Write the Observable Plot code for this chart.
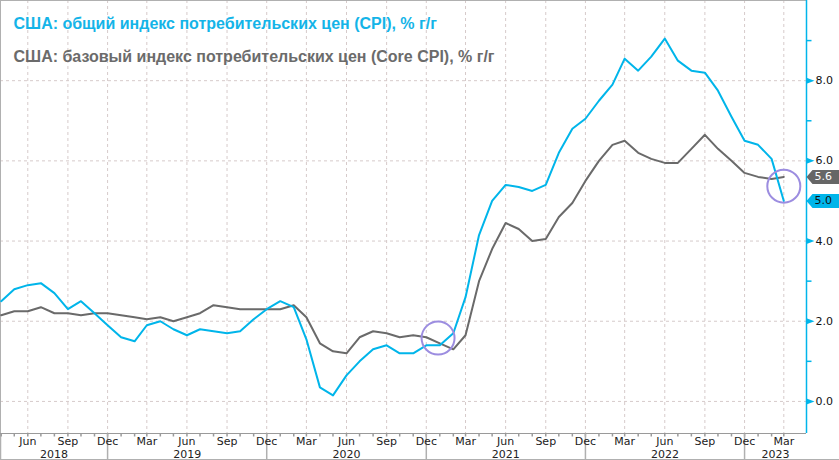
<!DOCTYPE html>
<html>
<head>
<meta charset="utf-8">
<script src="https://cdn.jsdelivr.net/npm/d3@7"></script>
<script src="https://cdn.jsdelivr.net/npm/@observablehq/plot@0.6"></script>
<style>
  html, body { margin: 0; padding: 0; background: #fff; }
  #chart svg { display: block; }
</style>
</head>
<body>
<div id="chart"></div>
<script>
// ---- Data (monthly, Apr 2018 – Mar 2023) ----
const firstMonth = new Date(Date.UTC(2018, 3, 1));
const lastMonth = new Date(Date.UTC(2023, 2, 1));

// Headline CPI, % y/y
const cpi = [
  2.5, 2.8, 2.9, 2.95, 2.7, 2.3, 2.5, 2.2, 1.9,
  1.6, 1.5, 1.9, 2.0, 1.8, 1.65, 1.8, 1.75, 1.7, 1.75, 2.05, 2.3,
  2.5, 2.35, 1.55, 0.35, 0.15, 0.65, 1.0, 1.3, 1.4, 1.2, 1.2, 1.4,
  1.4, 1.7, 2.6, 4.15, 5.0, 5.4, 5.35, 5.25, 5.4, 6.2, 6.8, 7.05,
  7.5, 7.9, 8.55, 8.25, 8.6, 9.05, 8.5, 8.25, 8.2, 7.75, 7.1, 6.5,
  6.4, 6.05, 5.0
];
// Core CPI, % y/y
const core = [
  2.15, 2.25, 2.25, 2.35, 2.2, 2.2, 2.15, 2.2, 2.2,
  2.15, 2.1, 2.05, 2.1, 2.0, 2.1, 2.2, 2.4, 2.35, 2.3, 2.3, 2.3,
  2.3, 2.4, 2.1, 1.45, 1.25, 1.2, 1.6, 1.75, 1.7, 1.6, 1.65, 1.6,
  1.45, 1.3, 1.65, 3.0, 3.8, 4.45, 4.3, 4.0, 4.05, 4.6, 4.95, 5.5,
  6.0, 6.4, 6.5, 6.2, 6.05, 5.95, 5.95, 6.3, 6.65, 6.3, 6.0, 5.7,
  5.6, 5.55, 5.6
];

// Highlight circles (annotation positions)
const circleDates = [new Date(Date.UTC(2020, 11, 28)), new Date(Date.UTC(2023, 2, 1))];
const circleValues = [1.58, 5.37];

// Texts
const title1 = "США: общий индекс потребительских цен (CPI), % г/г";
const title2 = "США: базовый индекс потребительских цен (Core CPI), % г/г";
const yTicks = [0, 2, 4, 6, 8];
const yMinorTicks = [1, 3, 5, 7, 9];
const yTickLabels = ["0.0", "2.0", "4.0", "6.0", "8.0"];
const quarterNames = ["Mar", "Jun", "Sep", "Dec"];
const yearLabels = ["2018", "2019", "2020", "2021", "2022", "2023"];

// ---- Build table ----
const months = d3.utcMonth.range(firstMonth, d3.utcMonth.offset(lastMonth, 1));
const data = months.map((d, i) => ({date: d, cpi: cpi[i], core: core[i]}));
const circles = circleDates.map((d, i) => ({date: d, value: circleValues[i]}));

const xStart = new Date(+firstMonth - 1.6 * 864e5);
const xEnd = new Date(+lastMonth + 52.06 * 864e5);
const yDomain = [-0.8, 10];

const quarterMonths = months.filter(d => [2, 5, 8, 11].includes(d.getUTCMonth()));
const decMonths = months.filter(d => d.getUTCMonth() === 11);
const years = yearLabels.map(y => {
  const yr = +y;
  const a = new Date(Math.max(+xStart, Date.UTC(yr - 1, 11, 1)));
  const b = new Date(Math.min(+xEnd, Date.UTC(yr, 11, 1)));
  return {label: y, date: new Date((+a + +b) / 2)};
});
const lastRow = data[data.length - 1];
const endLabels = [
  {value: lastRow.core, label: lastRow.core.toFixed(1), fill: "#666666", color: "#ffffff"},
  {value: lastRow.cpi, label: lastRow.cpi.toFixed(1), fill: "#00b5ea", color: "#111111"}
];

// ---- Styles ----
const cyan = "#00b5ea";
const gray = "#6a6a6a";
const gridColor = "#d6caca";
const axisGray = "#9a9a9a";
const purple = "#9c8de0";

const sym = fn => ({draw(ctx) { fn(ctx); }});
const vline = len => sym(ctx => { ctx.moveTo(0, 0); ctx.lineTo(0, len); });
const hline = len => sym(ctx => { ctx.moveTo(0, 0); ctx.lineTo(len, 0); });
const triTick = sym(ctx => { ctx.moveTo(0, -3); ctx.lineTo(8, 0); ctx.lineTo(0, 3); ctx.closePath(); });
const arrowBox = sym(ctx => {
  ctx.moveTo(0, 0); ctx.lineTo(6, -7); ctx.lineTo(40, -7);
  ctx.lineTo(40, 7); ctx.lineTo(6, 7); ctx.closePath();
});

const chart = Plot.plot({
  width: 839,
  height: 460,
  marginLeft: 0,
  marginRight: 33,
  marginTop: 0,
  marginBottom: 27,
  x: {type: "utc", domain: [xStart, xEnd], axis: null},
  y: {domain: yDomain, axis: null},
  style: {fontFamily: "'DejaVu Sans', Verdana, sans-serif", fontSize: "11px", background: "#ffffff", overflow: "visible"},
  marks: [
    // grid
    Plot.ruleY(yTicks, {stroke: gridColor, strokeDasharray: "3,3"}),
    Plot.ruleX(quarterMonths, {stroke: gridColor, strokeDasharray: "3,3"}),
    // frame
    Plot.ruleY([yDomain[1]], {stroke: "#b0b0b0"}),
    Plot.ruleX([xStart], {stroke: "#b0b0b0"}),
    Plot.dot([xStart], {x: d => d, frameAnchor: "bottom", symbol: vline(27), stroke: "#b0b0b0", r: 3}),
    Plot.ruleY([yDomain[0]], {stroke: axisGray}),
    Plot.ruleY([yDomain[0]], {dy: 26, x1: xStart, x2: new Date(+xEnd + 200 * 864e5), stroke: "#b0b0b0"}),
    // x axis ticks and labels
    Plot.dot(months, {x: d => d, frameAnchor: "bottom", symbol: vline(3), stroke: axisGray, r: 3}),
    Plot.dot(decMonths, {x: d => d, frameAnchor: "bottom", symbol: vline(27), stroke: "#b0b0b0", r: 3}),
    Plot.text(quarterMonths, {x: d => d, frameAnchor: "bottom", dy: 8, lineAnchor: "middle",
      text: d => quarterNames[[2, 5, 8, 11].indexOf(d.getUTCMonth())], fill: "#222", fontSize: 11}),
    Plot.text(years, {x: "date", frameAnchor: "bottom", dy: 21, lineAnchor: "middle", text: "label", fill: "#222", fontSize: 11}),
    // lines
    Plot.line(data, {x: "date", y: "core", stroke: gray, strokeWidth: 2}),
    Plot.line(data, {x: "date", y: "cpi", stroke: cyan, strokeWidth: 2}),
    // right axis
    Plot.ruleX([xEnd], {stroke: cyan, strokeWidth: 1.5}),
    Plot.dot(yTicks, {y: d => d, frameAnchor: "right", symbol: triTick, fill: cyan, stroke: null, r: 3}),
    Plot.dot(yMinorTicks, {y: d => d, frameAnchor: "right", symbol: hline(5), stroke: cyan, r: 3}),
    Plot.text(yTicks, {y: d => d, frameAnchor: "right", dx: 9, textAnchor: "start", lineAnchor: "middle",
      text: (d, i) => yTickLabels[i], fill: "#111", fontSize: 11}),
    // end value boxes
    Plot.dot(endLabels, {y: "value", frameAnchor: "right", dx: 0, symbol: arrowBox, fill: "fill", stroke: null, r: 3}),
    Plot.text(endLabels, {y: "value", frameAnchor: "right", dx: 8, textAnchor: "start", lineAnchor: "middle",
      text: "label", fill: "color", fontSize: 11}),
    // highlight circles
    Plot.dot(circles, {x: "date", y: "value", r: 16.5, stroke: purple, strokeWidth: 2, fill: "none"}),
    // titles
    Plot.text([title1], {frameAnchor: "top-left", dx: 13, dy: 28, lineAnchor: "bottom", textAnchor: "start",
      fill: "#14b4e8", fontWeight: "bold", fontSize: 16, fontFamily: "'Liberation Sans', Arial, sans-serif"}),
    Plot.text([title2], {frameAnchor: "top-left", dx: 13, dy: 61.5, lineAnchor: "bottom", textAnchor: "start",
      fill: "#6b6b6b", fontWeight: "bold", fontSize: 16, fontFamily: "'Liberation Sans', Arial, sans-serif"})
  ]
});
document.getElementById("chart").appendChild(chart);
</script>
</body>
</html>
